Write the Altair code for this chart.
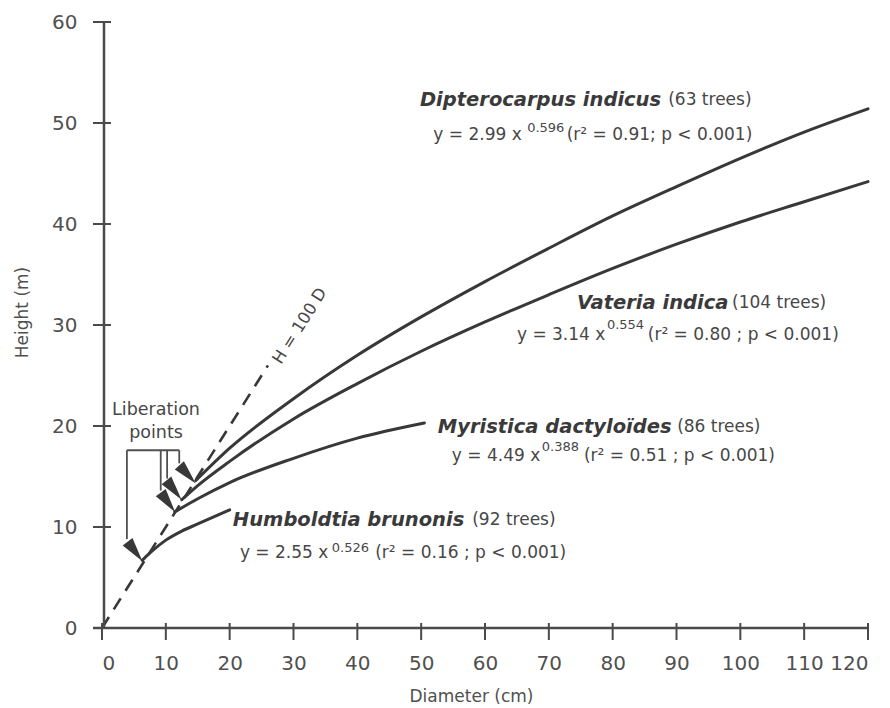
import altair as alt
import pandas as pd

# ---------------- data ----------------
species = ["Dipterocarpus indicus", "Vateria indica", "Myristica dactyloïdes", "Humboldtia brunonis"]
dipt_d = [14.7, 20, 30, 40, 50, 60, 70, 80, 90, 100, 110, 120]
dipt_h = [14.6, 17.8, 22.7, 27.0, 30.8, 34.3, 37.6, 40.8, 43.7, 46.5, 49.1, 51.4]
vat_d = [12.5, 15, 20, 30, 40, 50, 60, 70, 80, 90, 100, 110, 120]
vat_h = [12.7, 14.1, 16.5, 20.7, 24.2, 27.4, 30.3, 33.0, 35.6, 38.0, 40.2, 42.2, 44.2]
myr_d = [11.4, 15, 20, 30, 40, 50.5]
myr_h = [11.5, 12.8, 14.4, 16.8, 18.8, 20.3]
hum_d = [6.3, 8, 10, 12.5, 15, 17.5, 20]
hum_h = [6.7, 7.7, 8.7, 9.6, 10.3, 11.0, 11.7]
ref_d = [0, 26]          # H = 100 D
ref_h = [0, 26]
x_ticks = list(range(0, 121, 10))
y_ticks = list(range(0, 61, 10))
tree_counts = ["(63 trees)", "(104 trees)", "(86 trees)", "(92 trees)"]
coefs = ["y = 2.99 x", "y = 3.14 x", "y = 4.49 x", "y = 2.55 x"]
exps = ["0.596", "0.554", "0.388", "0.526"]
fits = ["(r² = 0.91; p < 0.001)", "(r² = 0.80 ; p < 0.001)",
        "(r² = 0.51 ; p < 0.001)", "(r² = 0.16 ; p < 0.001)"]

# ---------------- annotation layout (data units) ----------------
title_pos = [(49.8, 52.3), (74.4, 32.2), (52.6, 19.9), (20.5, 10.7)]
count_x = [88.7, 98.7, 90.1, 58.0]
eq_pos = [(51.9, 48.8), (65.0, 29.0), (54.8, 17.0), (21.6, 7.4)]
exp_pos = [(66.6, 49.5), (79.1, 30.0), (68.9, 17.9), (36.0, 7.9)]
fit_x = [72.8, 85.5, 75.5, 42.8]
bracket = [(3.9, 17.6, 12.1, 17.6), (3.9, 17.6, 3.9, 8.8), (9.2, 17.6, 9.2, 13.6),
           (10.2, 17.6, 10.2, 14.8), (12.1, 17.6, 12.1, 16.3)]
arrows = [(5.17, 7.57, 142.7), (10.34, 12.43, 143.6), (11.28, 13.66, 142.0), (13.40, 15.20, 138.0)]

W, H = 766, 606
TXT = "#474747"
LINE = "#383838"
FONT = "DejaVu Sans"

curves = pd.concat([
    pd.DataFrame({"d": d, "h": h, "s": s})
    for s, d, h in zip(species, [dipt_d, vat_d, myr_d, hum_d], [dipt_h, vat_h, myr_h, hum_h])
])
refdf = pd.DataFrame({"d": ref_d, "h": ref_h})

xs = alt.Scale(domain=[0, 120], nice=False, zero=False)
ys = alt.Scale(domain=[0, 60], nice=False, zero=False)
xaxis = alt.Axis(values=x_ticks, ticks=False, tickSize=0, grid=False, domain=False,
                 labelPadding=25, labelFontSize=20, labelFont=FONT, labelColor="#505050",
                 title="Diameter (cm)", titleX=369, titleY=68, titleBaseline="middle",
                 titleFont=FONT, titleFontSize=17, titleFontWeight="normal", titleColor="#505050")
yaxis = alt.Axis(values=y_ticks, ticks=False, tickSize=0, grid=False, domain=False,
                 labelPadding=25, labelFontSize=20, labelFont=FONT, labelColor="#505050",
                 title="Height (m)", titleX=-80, titleY=290, titleBaseline="middle", titleAngle=270,
                 titleFont=FONT, titleFontSize=17, titleFontWeight="normal", titleColor="#505050")


def XE(f="d"):
    return alt.X(f + ":Q", scale=xs, axis=xaxis)


def YE(f="h"):
    return alt.Y(f + ":Q", scale=ys, axis=yaxis)


lines = alt.Chart(curves).mark_line(color=LINE, strokeWidth=3, strokeCap="round",
                                    interpolate="monotone").encode(
    x=XE(), y=YE(), detail="s:N")
dashed = alt.Chart(refdf).mark_line(color=LINE, strokeWidth=2.6, strokeDash=[13, 9]).encode(
    x=XE(), y=YE())

# axis lines and crossing ticks
ydom = alt.Chart(pd.DataFrame({"h": [0]})).mark_rule(color="#4a4a4a", strokeWidth=2.5).encode(
    x=alt.value(2), y=alt.value(0), y2=alt.value(H))
xdom = alt.Chart(pd.DataFrame({"h": [0]})).mark_rule(color="#4a4a4a", strokeWidth=2.5).encode(
    y=alt.value(H), x=alt.value(-9), x2=alt.value(W))
yt = alt.Chart(pd.DataFrame({"h": y_ticks})).mark_rule(color="#4a4a4a", strokeWidth=2).encode(
    y=YE(), x=alt.value(-9), x2=alt.value(9))
xt = alt.Chart(pd.DataFrame({"d": x_ticks})).mark_rule(color="#4a4a4a", strokeWidth=2).encode(
    x=XE(), y=alt.value(H - 5), y2=alt.value(H + 12))

# bracket + arrows
brdf = pd.DataFrame(bracket, columns=["d", "h", "d2", "h2"])
br = alt.Chart(brdf).mark_rule(color="#505050", strokeWidth=1.8).encode(
    x=XE(), y=YE(), x2="d2:Q", y2="h2:Q")
ardf = pd.DataFrame(arrows, columns=["d", "h", "a"])
ar = alt.Chart(ardf).mark_point(shape="M0,-1L0.5,1L-0.5,1Z", size=600, filled=True,
                                color="#383838", opacity=1).encode(
    x=XE(), y=YE(), angle=alt.Angle("a:Q", scale=None))


# texts
def tdf(xy, texts):
    return pd.DataFrame({"d": [p[0] for p in xy], "h": [p[1] for p in xy], "t": texts})


titles = alt.Chart(tdf(title_pos, species)).mark_text(
    font=FONT, fontSize=19.5, fontWeight="bold", fontStyle="italic", color="#3a3a3a",
    align="left", baseline="middle").encode(x=XE(), y=YE(), text="t:N")
counts = alt.Chart(tdf([(cx, p[1]) for cx, p in zip(count_x, title_pos)], tree_counts)).mark_text(
    font=FONT, fontSize=17, color=TXT, align="left", baseline="middle").encode(
    x=XE(), y=YE(), text="t:N")
eqs = alt.Chart(tdf(eq_pos, coefs)).mark_text(
    font=FONT, fontSize=17, color=TXT, align="left", baseline="middle").encode(
    x=XE(), y=YE(), text="t:N")
ex = alt.Chart(tdf(exp_pos, exps)).mark_text(
    font=FONT, fontSize=13, color=TXT, align="left", baseline="middle").encode(
    x=XE(), y=YE(), text="t:N")
ft = alt.Chart(tdf([(fx, p[1]) for fx, p in zip(fit_x, eq_pos)], fits)).mark_text(
    font=FONT, fontSize=17, color=TXT, align="left", baseline="middle").encode(
    x=XE(), y=YE(), text="t:N")
lib = alt.Chart(tdf([(8.46, 21.6), (8.46, 19.3)], ["Liberation", "points"])).mark_text(
    font=FONT, fontSize=17.5, color=TXT, align="center", baseline="middle").encode(
    x=XE(), y=YE(), text="t:N")
hd = alt.Chart(tdf([(31.0, 29.9)], ["H = 100 D"])).mark_text(
    font=FONT, fontSize=16.5, color=TXT, align="center", baseline="middle", angle=302.3).encode(
    x=XE(), y=YE(), text="t:N")

chart = alt.layer(dashed, lines, ydom, xdom, yt, xt, br, ar, titles, counts, eqs, ex, ft, lib, hd).properties(
    width=W, height=H,
    autosize=alt.AutoSizeParams(type="none"),
    padding={"left": 94, "top": 14, "right": 14, "bottom": 78},
    background="white",
).configure_view(stroke=None)

chart.save("out.html", embed_options={"renderer": "svg", "actions": False})
